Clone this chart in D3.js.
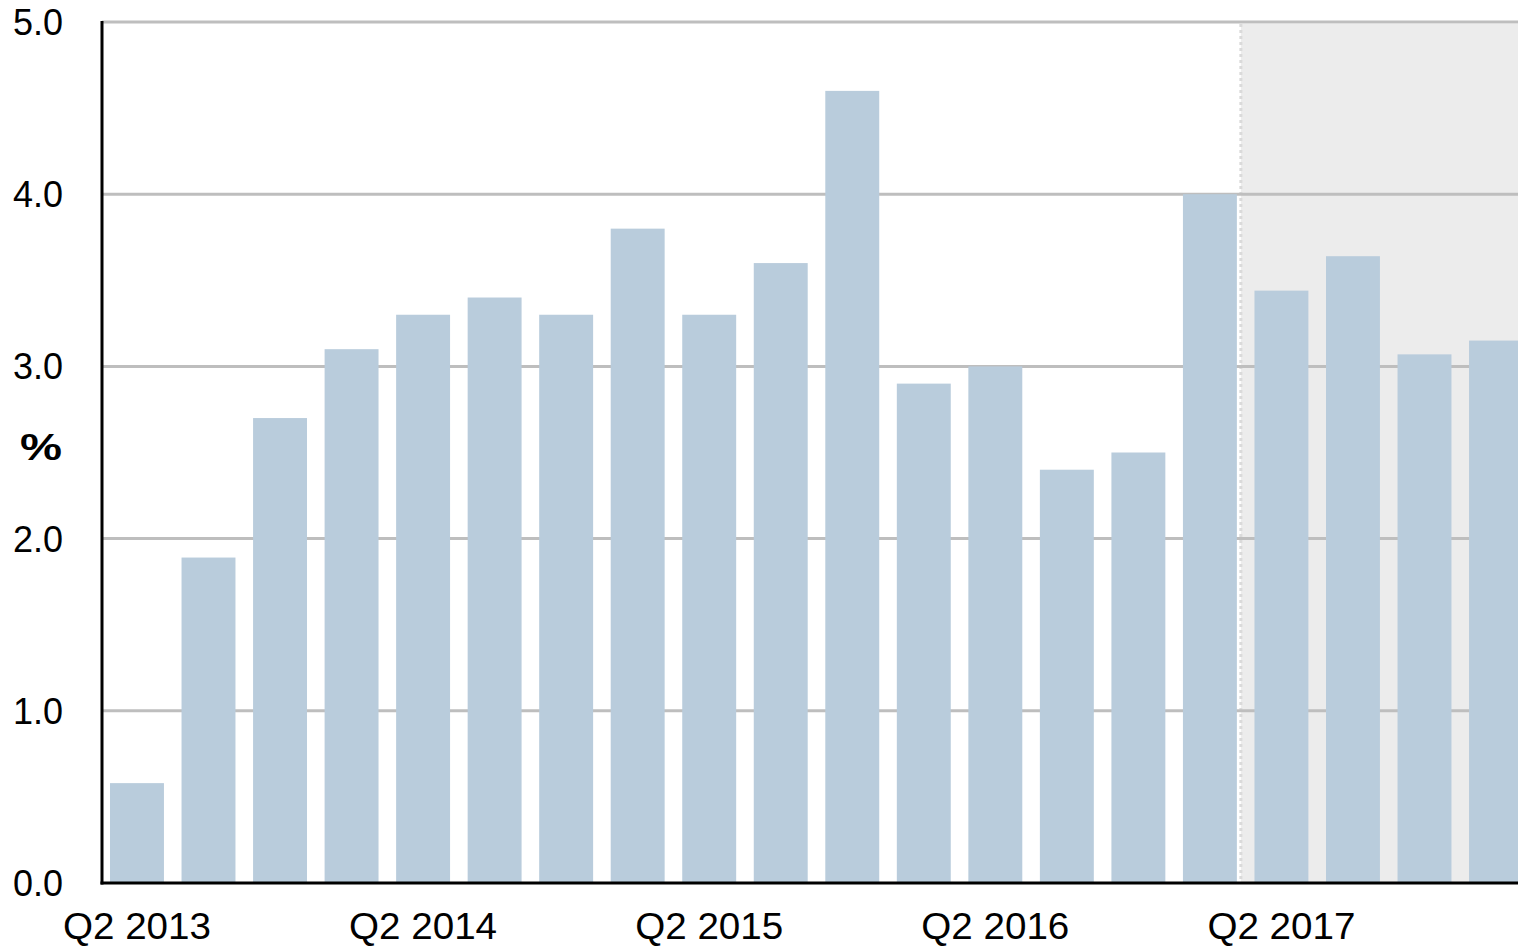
<!DOCTYPE html>
<html>
    <head>
        <title>D3</title>
        <script src="https://d3js.org/d3.v7.min.js"></script>
        <style>
            body { margin: 0; background: #fff; }
            text { font-family: "Liberation Sans", Arial, sans-serif; fill: #000; }
        </style>
    </head>

    <body>
        <div id="my_dataviz"></div>

    <script>
            // quarters and values (%)
            var quarters = ["Q2 2013", "Q3 2013", "Q4 2013", "Q1 2014",
                            "Q2 2014", "Q3 2014", "Q4 2014", "Q1 2015",
                            "Q2 2015", "Q3 2015", "Q4 2015", "Q1 2016",
                            "Q2 2016", "Q3 2016", "Q4 2016", "Q1 2017",
                            "Q2 2017", "Q3 2017", "Q4 2017", "Q1 2018"]
            var values = [0.58, 1.89, 2.7, 3.1, 3.3, 3.4, 3.3, 3.8, 3.3, 3.6,
                          4.6, 2.9, 3.0, 2.4, 2.5, 4.0, 3.44, 3.64, 3.07, 3.15]
            var xTickLabels = ["Q2 2013", "Q2 2014", "Q2 2015", "Q2 2016", "Q2 2017"]
            var yTicks = [0, 1, 2, 3, 4, 5]
            // last actual quarter, shading starts right after it
            var lastActual = "Q1 2017"

            var data = quarters.map(function(q, i) { return {q: q, v: values[i]}; })

            // note: "top" is taken by window.top, so use other names
            var W = 1518, H = 946
            var plotLeft = 102, plotTop = 22, plotBottom = 883

            var svg = d3.select("#my_dataviz")
              .append("svg")
                .attr("width", W)
                .attr("height", H)

            var x = d3.scaleBand()
              .domain(quarters)
              .range([plotLeft, 1531])
              .paddingInner(0.246)
              .paddingOuter(0.112)

            var y = d3.scaleLinear()
              .domain([0, 5])
              .range([plotBottom, plotTop])

            // shaded forecast area
            var shadeX = x(lastActual) + x.bandwidth() + 4
            svg.append("rect")
              .attr("x", shadeX)
              .attr("y", y(5) + 2)
              .attr("width", W - shadeX)
              .attr("height", y(0) - y(5) - 2)
              .style("fill", "#ececec")
            svg.append("line")
              .attr("x1", shadeX).attr("x2", shadeX)
              .attr("y1", y(5) + 2).attr("y2", y(0))
              .style("stroke", "#dadada")
              .style("stroke-width", 3)
              .style("stroke-dasharray", "3,3")

            // gridlines
            svg.append("g")
              .selectAll("line")
              .data(yTicks.filter(function(d) { return d > 0; }))
              .enter()
              .append("line")
                .attr("x1", plotLeft).attr("x2", W)
                .attr("y1", function(d) { return y(d); })
                .attr("y2", function(d) { return y(d); })
                .style("stroke", "#bebebe")
                .style("stroke-width", 3)

            // bars
            svg.append("g")
              .selectAll("rect")
              .data(data)
              .enter()
              .append("rect")
                .attr("x", function(d) { return x(d.q); })
                .attr("y", function(d) { return y(d.v); })
                .attr("width", x.bandwidth())
                .attr("height", function(d) { return y(0) - y(d.v); })
                .style("fill", "#b9ccdc")

            // axes lines
            svg.append("line")
              .attr("x1", plotLeft).attr("x2", plotLeft)
              .attr("y1", plotTop - 1).attr("y2", plotBottom + 1.5)
              .style("stroke", "#000").style("stroke-width", 3)
            svg.append("line")
              .attr("x1", plotLeft - 1.5).attr("x2", W)
              .attr("y1", plotBottom).attr("y2", plotBottom)
              .style("stroke", "#000").style("stroke-width", 3)

            // y tick labels
            svg.append("g")
              .selectAll("text")
              .data(yTicks)
              .enter()
              .append("text")
                .attr("x", 63)
                .attr("y", function(d) { return y(d); })
                .attr("dy", "0.36em")
                .attr("text-anchor", "end")
                .style("font-size", "36px")
                .text(function(d) { return d3.format(".1f")(d); })

            // unit label
            svg.append("text")
              .attr("x", 41)
              .attr("y", 460)
              .attr("text-anchor", "middle")
              .attr("textLength", 42)
              .attr("lengthAdjust", "spacingAndGlyphs")
              .style("font-size", "36px")
              .style("font-weight", "bold")
              .text("%")

            // x tick labels
            svg.append("g")
              .selectAll("text")
              .data(xTickLabels)
              .enter()
              .append("text")
                .attr("x", function(d) { return x(d) + x.bandwidth() / 2; })
                .attr("y", 939)
                .attr("text-anchor", "middle")
                .attr("textLength", 148)
                .attr("lengthAdjust", "spacingAndGlyphs")
                .style("font-size", "37px")
                .text(function(d) { return d; })
    </script>
    </body>
</html>
